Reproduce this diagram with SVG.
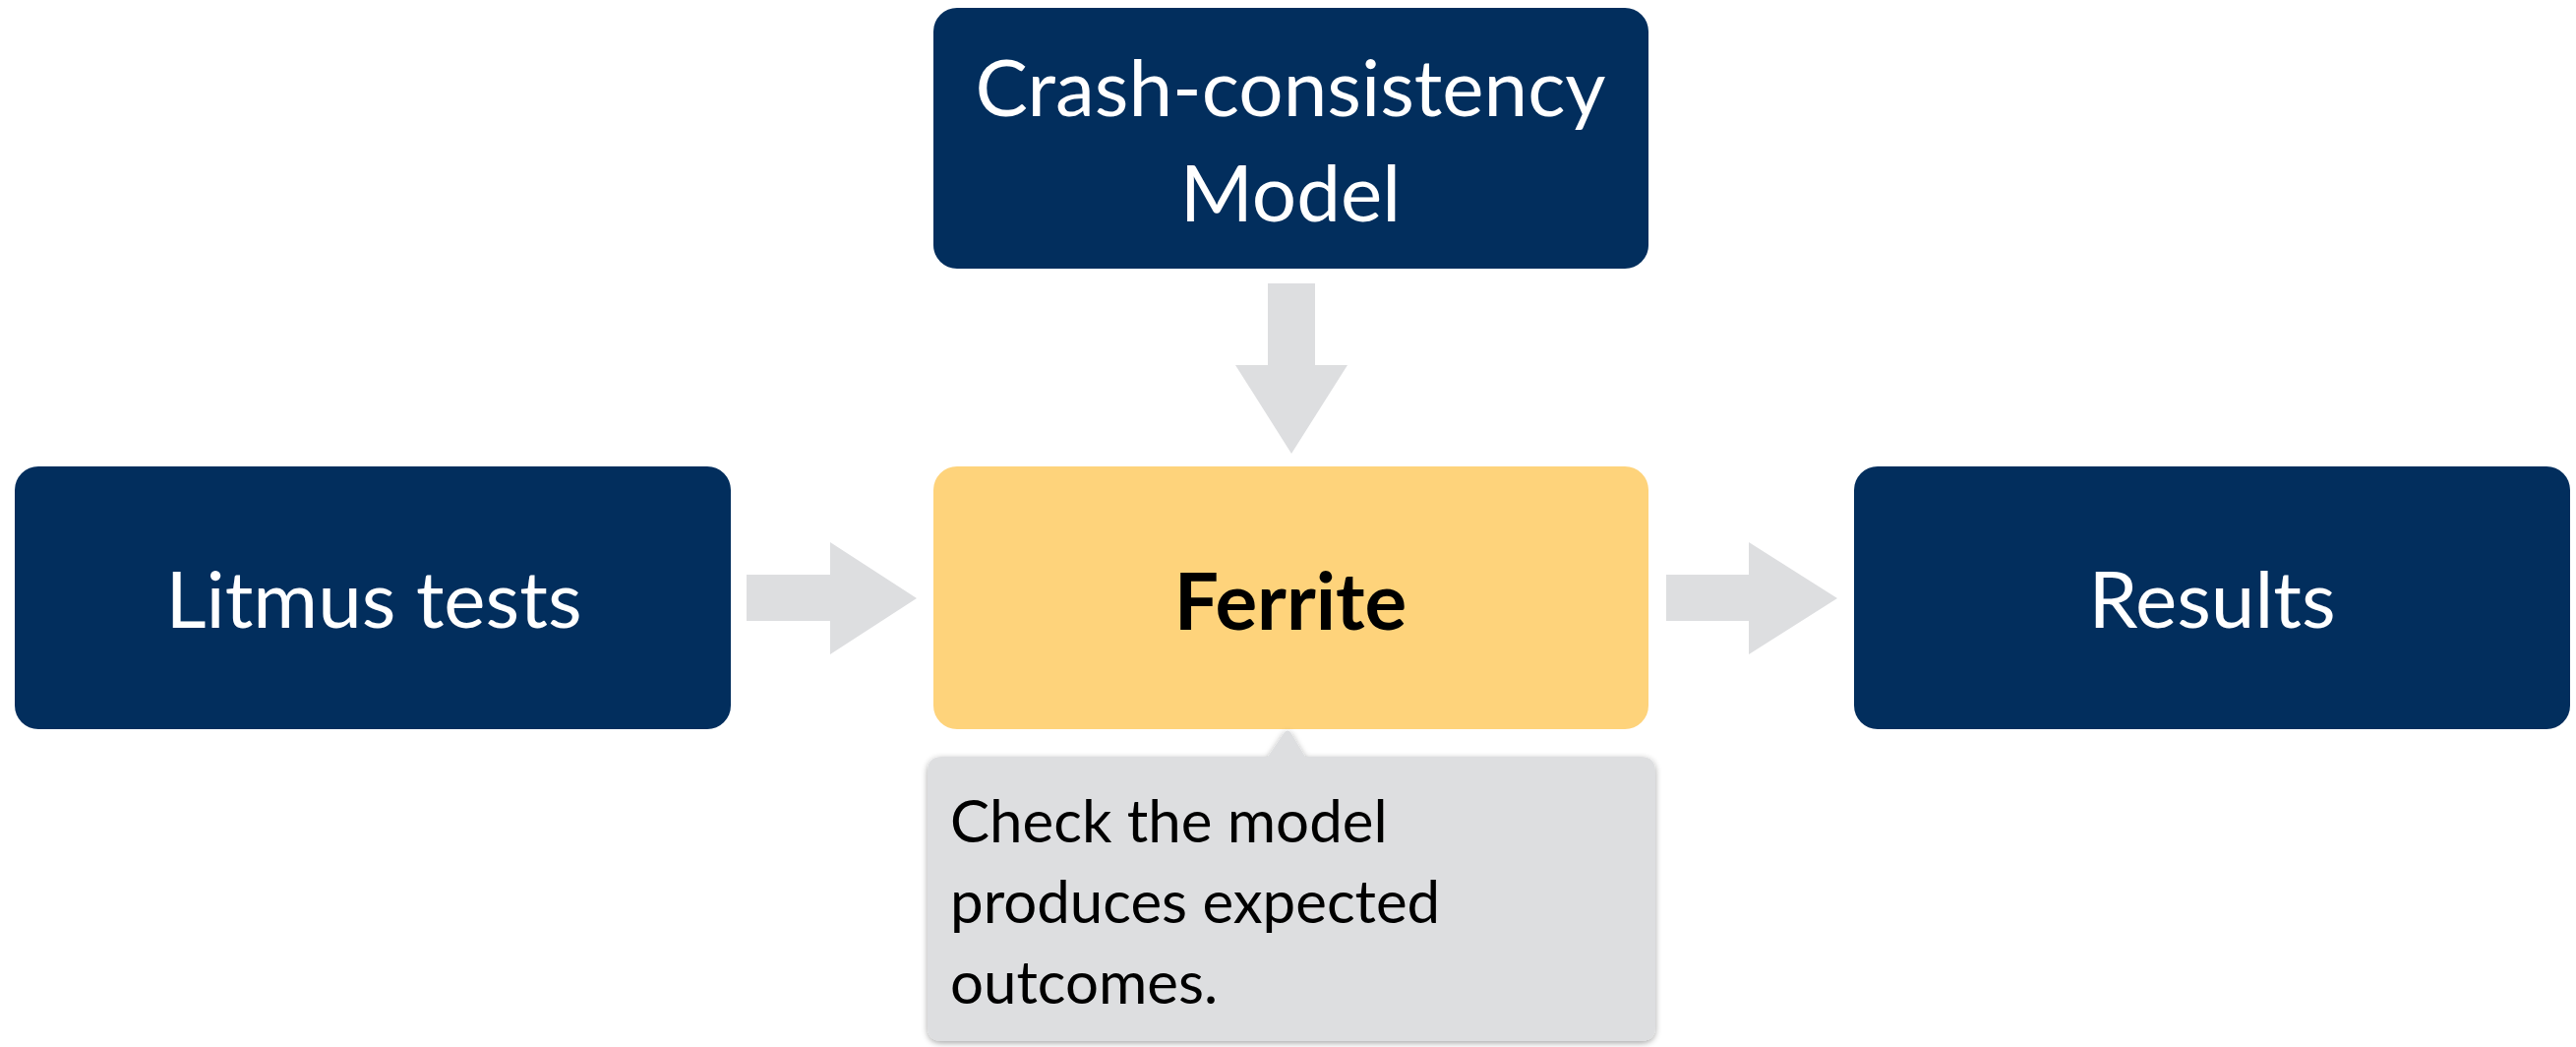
<svg xmlns="http://www.w3.org/2000/svg" width="2619" height="1064" viewBox="0 0 2619 1064">
  <style>
    .navy { fill: #022E5D; }
    .yellow { fill: #FED37B; }
    .arrow { fill: #DDDEE0; }
    .callout { fill: #DDDEE0; }
    .lbl { font-family: Lato, "Liberation Sans", sans-serif; font-size: 80px; fill: #FFFFFF; text-anchor: middle; }
    .bold { font-family: Lato, "Liberation Sans", sans-serif; font-size: 80px; font-weight: bold; fill: #000000; text-anchor: middle; }
    .note { font-family: Lato, "Liberation Sans", sans-serif; font-size: 60px; fill: #000000; }
  </style>
  <defs>
    <filter id="shadow" x="-5%" y="-10%" width="110%" height="120%">
      <feDropShadow dx="0" dy="2" stdDeviation="3" flood-color="#000000" flood-opacity="0.35"/>
    </filter>
  </defs>
  <rect width="2619" height="1064" fill="#FFFFFF"/>

  <g id="connectors">
    <polygon class="arrow" points="1289,288 1337,288 1337,371 1370,371 1313,461 1256,371 1289,371"/>
    <polygon class="arrow" points="759,584 844,584 844,551 932,608 844,665 844,631 759,631"/>
    <polygon class="arrow" points="1694,584 1778,584 1778,551 1868,608 1778,665 1778,631 1694,631"/>
  </g>

  <g id="crash-model">
    <rect class="navy" x="949" y="8" width="727" height="265" rx="24"/>
    <text class="lbl" x="1312" y="118">Crash-consistency</text>
    <text class="lbl" x="1312" y="225">Model</text>
  </g>

  <g id="litmus">
    <rect class="navy" x="15" y="474" width="728" height="267" rx="24"/>
    <text class="lbl" x="380" y="638">Litmus tests</text>
  </g>

  <g id="ferrite">
    <rect class="yellow" x="949" y="474" width="727" height="267" rx="24"/>
    <text class="bold" x="1312" y="640">Ferrite</text>
  </g>

  <g id="results">
    <rect class="navy" x="1885" y="474" width="728" height="267" rx="24"/>
    <text class="lbl" x="2249" y="638">Results</text>
  </g>

  <g id="note">
    <path class="callout" filter="url(#shadow)" d="M 958,769 L 1289,769 L 1306,744 Q 1309,741 1312,744 L 1327,769 L 1668,769 Q 1683,769 1683,784 L 1683,1043 Q 1683,1058 1668,1058 L 958,1058 Q 943,1058 943,1043 L 943,784 Q 943,769 958,769 Z"/>
    <text class="note" x="966" y="856">Check the model</text>
    <text class="note" x="966" y="938">produces expected</text>
    <text class="note" x="966" y="1020">outcomes.</text>
  </g>
</svg>
